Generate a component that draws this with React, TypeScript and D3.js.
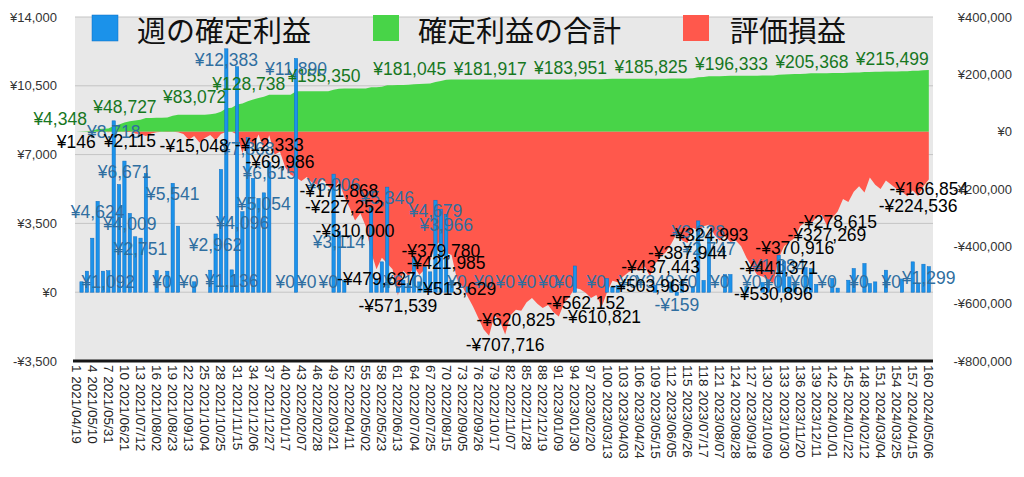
import React from "react";
import * as d3 from "d3";

// 週の確定利益 (weekly realized profit), weeks 1..160
const weeklyProfit = [
  0, 530, 1070, 2748, 4624, 1070, 1092, 8718, 5480, 6671,
  4009, 2820, 2751, 6040, 0, 1104, 0, 1070, 5541, 3360,
  0, 0, 530, 0, 0, 1120, 2962, 6243, 12383, 1136,
  11470, 4096, 7868, 5793, 4770, 5054, 6615, 0, 0, 0,
  0, 11890, 0, 0, 0, 0, 0, 0, 6006, 3114,
  611, 0, 0, 0, 0, 4300, 691, 1544, 5346, 0,
  270, 610, 440, 1765, 525, 1290, 1035, 4679, 4225, 3966,
  600, 0, 0, 272, 0, 0, 0, 0, 0, 0,
  0, 0, 0, 0, 0, 0, 0, 0, 0, 0,
  0, 0, 0, 1334, 0, 0, 0, 0, 0, 700,
  270, 350, 0, 0, 0, 0, 0, 0, 349, 0,
  0, 520, -159, 544, 0, 300, 3628, 600, 2747, 0,
  0, 900, 900, 0, 0, 300, 0, 0, 500, 633,
  0, 1884, 1561, 780, 440, 0, 1250, 1205, 400, 0,
  0, 695, 209, 0, 611, 1205, 0, 1460, 440, 525,
  0, 1120, 0, 0, 673, 0, 1544, 440, 1425, 1299,
];

// 確定利益の合計 (cumulative realized profit)
const cumulativeProfit = [
  0, 530, 1600, 4348, 8972, 10042, 11134, 19852, 25332, 32003,
  36012, 38832, 41583, 47623, 47623, 48727, 48727, 49797, 55338, 58698,
  58698, 58698, 59228, 59228, 59228, 60348, 63310, 69553, 81936, 83072,
  94542, 98638, 106506, 112299, 117069, 122123, 128738, 128738, 128738, 128738,
  128738, 140628, 140628, 140628, 140628, 140628, 140628, 140628, 146634, 149748,
  150359, 150359, 150359, 150359, 150359, 154659, 155350, 156894, 162240, 162240,
  162510, 163120, 163560, 165325, 165850, 167140, 168175, 172854, 177079, 181045,
  181645, 181645, 181645, 181917, 181917, 181917, 181917, 181917, 181917, 181917,
  181917, 181917, 181917, 181917, 181917, 181917, 181917, 181917, 181917, 181917,
  181917, 181917, 181917, 183251, 183251, 183251, 183251, 183251, 183251, 183951,
  184221, 184571, 184571, 184571, 184571, 184571, 184571, 184571, 184920, 184920,
  184920, 185440, 185281, 185825, 185825, 186125, 189753, 190353, 193100, 193100,
  193100, 194000, 194900, 194900, 194900, 195200, 195200, 195200, 195700, 196333,
  196333, 198217, 199778, 200558, 200998, 200998, 202248, 203453, 203853, 203853,
  203853, 204548, 204757, 204757, 205368, 206573, 206573, 208033, 208473, 208998,
  208998, 210118, 210118, 210118, 210791, 210791, 212335, 212775, 214200, 215499,
];

// 評価損益 (unrealized P/L)
const unrealizedPL = [
  146, 0, -500, 800, -1000, 500, -2000, 1000, -1500, 500,
  2115, -6000, -9000, -15000, -6000, -2000, 0, -1000, 0, -2000,
  -8000, -28000, -15048, -38000, -22000, -12000, -30000, -8000, 0, 0,
  -10000, -75000, -18000, -55000, -10000, -62000, -12333, -80000, -69986, -125000,
  -150000, -160000, -172000, -158000, -178000, -185000, -165000, -190000, -205000, -171868,
  -227252, -265000, -310000, -285000, -330000, -420000, -479627, -440000, -460000, -480000,
  -571539, -485000, -505000, -470000, -500000, -480000, -450000, -400000, -379780, -421985,
  -430000, -513629, -540000, -575000, -610000, -650000, -690000, -712000, -640000, -660000,
  -707716, -640000, -620825, -625000, -595000, -580000, -600000, -615000, -605000, -630000,
  -645000, -598000, -575000, -545000, -550000, -562152, -580000, -570000, -610821, -560000,
  -520000, -525000, -505000, -490000, -480000, -485000, -470000, -503965, -460000, -437443,
  -420000, -390000, -355000, -380000, -387944, -335000, -345000, -330000, -324993, -360000,
  -380000, -365000, -385000, -380000, -400000, -440000, -470000, -500000, -505000, -515000,
  -530896, -441371, -400000, -385000, -370916, -330000, -315000, -320000, -300000, -290000,
  -327269, -300000, -278615, -235000, -245000, -210000, -190000, -212000, -160000, -185000,
  -200000, -170000, -185000, -200000, -210000, -225000, -205000, -224536, -190000, -166854,
];

const xTickLabels = [
  "1 2021/04/19", "4 2021/05/10", "7 2021/05/31", "10 2021/06/21", "13 2021/07/12",
  "16 2021/08/02", "19 2021/08/23", "22 2021/09/13", "25 2021/10/04", "28 2021/10/25",
  "31 2021/11/15", "34 2021/12/06", "37 2021/12/27", "40 2022/01/17", "43 2022/02/07",
  "46 2022/02/28", "49 2022/03/21", "52 2022/04/11", "55 2022/05/02", "58 2022/05/23",
  "61 2022/06/13", "64 2022/07/04", "67 2022/07/25", "70 2022/08/15", "73 2022/09/05",
  "76 2022/09/26", "79 2022/10/17", "82 2022/11/07", "85 2022/11/28", "88 2022/12/19",
  "91 2023/01/09", "94 2023/01/30", "97 2023/02/20", "100 2023/03/13", "103 2023/04/03",
  "106 2023/04/24", "109 2023/05/15", "112 2023/06/05", "115 2023/06/26", "118 2023/07/17",
  "121 2023/08/07", "124 2023/08/28", "127 2023/09/18", "130 2023/10/09", "133 2023/10/30",
  "136 2023/11/20", "139 2023/12/11", "142 2024/01/01", "145 2024/01/22", "148 2024/02/12",
  "151 2024/03/04", "154 2024/03/25", "157 2024/04/15", "160 2024/05/06",
];

const leftTicks = [14000, 10500, 7000, 3500, 0, -3500];
const rightTicks = [400000, 200000, 0, -200000, -400000, -600000, -800000];
const legendLabels = ["週の確定利益", "確定利益の合計", "評価損益"];

// weeks whose values carry a data label
const weeklyLabelWeeks = [
  5, 7, 8, 10, 11, 13, 17, 19, 22, 27, 29, 30, 32, 33, 36, 37, 40, 42, 44, 48,
  49, 50, 59, 62, 68, 70, 72, 77, 81, 85, 89, 92, 98, 104, 109, 113, 115, 117, 119,
  121, 127, 131, 132, 136, 141, 147, 153, 160,
];
const cumulativeLabelWeeks = [3, 16, 29, 40, 54, 70, 85, 100, 115, 130, 145, 160];
const cumulativeLabelValues = [
  4348, 48727, 83072, 128738, 155350, 181045, 181917, 183951, 185825, 196333, 205368, 215499,
];
const unrealizedLabelWeeks = [
  1, 11, 23, 37, 39, 50, 51, 53, 57, 61, 69, 70, 72, 81, 83, 96, 99, 108, 110, 115,
  119, 131, 132, 135, 141, 143, 158, 160,
];

const yen = (v: number) => (v < 0 ? "-¥" : "¥") + d3.format(",")(Math.abs(v));

export default function App() {
  const W = 1024;
  const H = 477;
  const L = 75, R = 933, T = 17, B = 361;
  const weeks = weeklyProfit.map((_, i) => i + 1);
  const x = d3
    .scaleBand<number>()
    .domain(weeks)
    .range([73.5, 931.5])
    .paddingInner(0.38)
    .paddingOuter(0.19);
  const cx = (w: number) => (x(w) as number) + x.bandwidth() / 2;
  const yL = d3.scaleLinear().domain([-3500, 14000]).range([B, T]);
  const yR = d3.scaleLinear().domain([-800000, 400000]).range([B, T]);
  const area = d3
    .area<number>()
    .x((_, i) => cx(i + 1))
    .y0(yR(0))
    .y1((d) => yR(d));

  const numFont = "'Liberation Sans', Arial, Helvetica, sans-serif";
  const cjkFont = "'Noto Sans CJK JP', 'Noto Sans', sans-serif";
  const blue = "#1b92ea";
  const green = "#48d448";
  const red = "#ff584c";
  const legendColors = [blue, green, red];
  const legendSquareX = [92, 373, 683];
  const legendTextX = [137, 418, 730];

  return (
    <svg
      width={W}
      height={H}
      style={{ position: "absolute", left: 0, top: 0, display: "block", background: "#fff" }}
    >
      <rect x={L} y={T} width={R - L} height={B - T} fill="#e8e8e8" />
      {leftTicks
        .filter((t) => t > -3500)
        .map((t) => (
          <line key={"g" + t} x1={L} x2={R} y1={yL(t)} y2={yL(t)} stroke="#c4c4c4" strokeWidth={1} />
        ))}
      <path d={area(cumulativeProfit) || ""} fill={green} />
      <path d={area(unrealizedPL) || ""} fill={red} />
      {weeklyProfit.map((v, i) => {
        const y0 = yL(0);
        const y1 = yL(v);
        return (
          <rect
            key={"b" + i}
            x={x(i + 1)}
            y={Math.min(y0, y1)}
            width={x.bandwidth()}
            height={Math.abs(y1 - y0)}
            fill={blue}
            stroke="#0b6cc4"
            strokeWidth={0.5}
          />
        );
      })}
      <line x1={73} x2={R} y1={B} y2={B} stroke="#161616" strokeWidth={3} />

      {/* data labels */}
      <g fontFamily={numFont} fontSize={17.5}>
        {cumulativeLabelWeeks.map((w, k) => (
          <text
            key={"cl" + k}
            x={cx(w)}
            y={yR(cumulativeLabelValues[k]) - 11}
            textAnchor="end"
            dominantBaseline="central"
            fill="#17771f"
          >
            {yen(cumulativeLabelValues[k])}
          </text>
        ))}
        {weeklyLabelWeeks.map((w) => {
          const v = weeklyProfit[w - 1];
          const yy = v < 0 ? yL(v) + 10 : Math.min(yL(v) + 11, yL(0) - 10);
          return (
            <text
              key={"wl" + w}
              x={cx(w)}
              y={yy}
              textAnchor="middle"
              dominantBaseline="central"
              fill="#2f6ea0"
            >
              {yen(v)}
            </text>
          );
        })}
        {unrealizedLabelWeeks.map((w) => {
          const v = unrealizedPL[w - 1];
          return (
            <text
              key={"ul" + w}
              x={cx(w)}
              y={yR(v) + 10}
              textAnchor="middle"
              dominantBaseline="central"
              fill="#000"
            >
              {yen(v)}
            </text>
          );
        })}
      </g>

      {/* axes */}
      <g fontFamily={numFont} fontSize={13} fill="#333">
        {leftTicks.map((t) => (
          <text key={"lt" + t} x={57} y={yL(t)} textAnchor="end" dominantBaseline="central">
            {yen(t)}
          </text>
        ))}
        {rightTicks.map((t) => (
          <text key={"rt" + t} x={1012} y={yR(t)} textAnchor="end" dominantBaseline="central">
            {yen(t)}
          </text>
        ))}
      </g>
      <g fontFamily={numFont} fontSize={13.5} fill="#222">
        {xTickLabels.map((lab) => {
          const w = parseInt(lab, 10);
          return (
            <text
              key={"xt" + lab}
              transform={`translate(${cx(w)},${B + 4}) rotate(90)`}
              textAnchor="start"
              dominantBaseline="central"
            >
              {lab}
            </text>
          );
        })}
      </g>

      {/* legend */}
      {legendLabels.map((lab, k) => (
        <g key={"lg" + k}>
          <rect
            x={legendSquareX[k]}
            y={15}
            width={26}
            height={26}
            fill={legendColors[k]}
            stroke={k === 0 ? "#0b6cc4" : "none"}
            strokeWidth={0.5}
          />
          <text
            x={legendTextX[k]}
            y={29}
            fontFamily={cjkFont}
            fontSize={29}
            dominantBaseline="central"
            fill="#111"
          >
            {lab}
          </text>
        </g>
      ))}
    </svg>
  );
}
